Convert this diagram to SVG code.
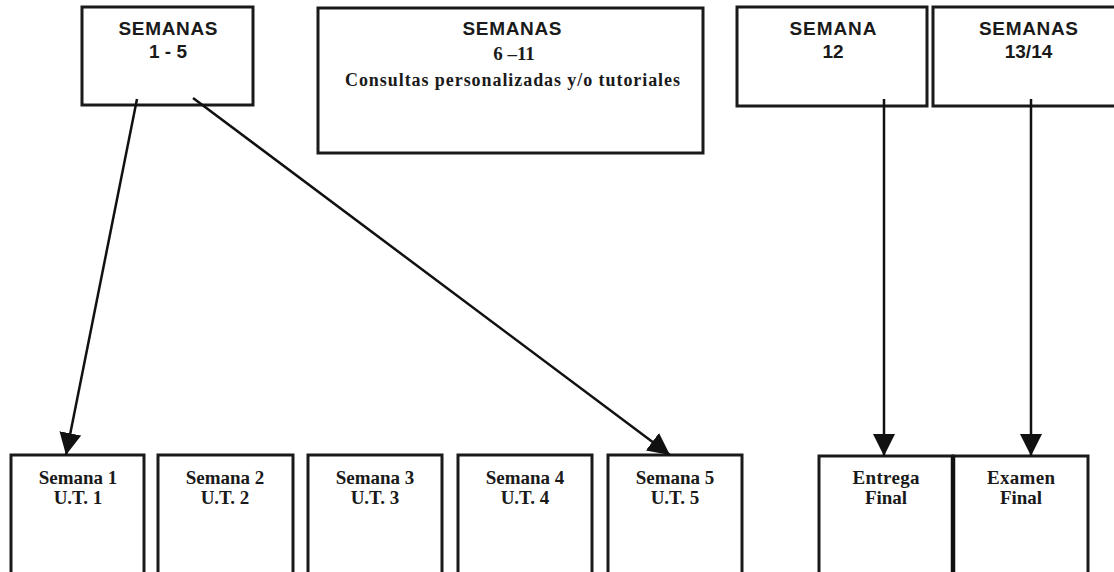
<svg xmlns="http://www.w3.org/2000/svg" width="1114" height="572" viewBox="0 0 1114 572">
<style>
.box{fill:#fff;stroke:#1a1a1a;stroke-width:3}
.sans{font-family:"Liberation Sans",Arial,sans-serif;font-weight:bold;font-size:19px;fill:#1a1a1a;text-anchor:middle}
.serif{font-family:"Liberation Serif","Times New Roman",serif;font-weight:bold;font-size:19px;fill:#1a1a1a;text-anchor:middle}
.conn{stroke:#111;stroke-width:2.5;fill:none}
</style>
<defs>
<marker id="ah" markerUnits="userSpaceOnUse" markerWidth="24" markerHeight="24" refX="22" refY="11" orient="auto" viewBox="0 0 24 24">
<path d="M0,0 L22,11 L0,22 z" fill="#111"/>
</marker>
</defs>
<rect width="1114" height="572" fill="#fff"/>
<g id="n-s1-5">
<rect class="box" x="82" y="7" width="171" height="98"/>
<text class="sans" x="168" y="35" textLength="99" lengthAdjust="spacing">SEMANAS</text>
<text class="sans" x="168" y="58">1 - 5</text>
</g>
<g id="n-s6-11">
<rect class="box" x="318" y="8" width="385" height="145"/>
<text class="sans" x="512" y="35" textLength="99" lengthAdjust="spacing">SEMANAS</text>
<text class="serif" x="514" y="60">6 –11</text>
<text class="serif" x="512.5" y="86" style="font-size:18px" textLength="335" lengthAdjust="spacing">Consultas personalizadas y/o tutoriales</text>
</g>
<g id="n-s12">
<rect class="box" x="737" y="7" width="190" height="99"/>
<text class="sans" x="833" y="35" textLength="87" lengthAdjust="spacing">SEMANA</text>
<text class="sans" x="833" y="58">12</text>
</g>
<g id="n-s13-14">
<rect class="box" x="933" y="7" width="192" height="99"/>
<text class="sans" x="1028.5" y="35" textLength="99" lengthAdjust="spacing">SEMANAS</text>
<text class="sans" x="1028.5" y="58">13/14</text>
</g>
<g id="n-sem1">
<rect class="box" x="11" y="455" width="133" height="130"/>
<text class="serif" x="78" y="484">Semana 1</text>
<text class="serif" x="78" y="504">U.T. 1</text>
</g>
<g id="n-sem2">
<rect class="box" x="158" y="455" width="135" height="130"/>
<text class="serif" x="225" y="484">Semana 2</text>
<text class="serif" x="225" y="504">U.T. 2</text>
</g>
<g id="n-sem3">
<rect class="box" x="308" y="455" width="134" height="130"/>
<text class="serif" x="375" y="484">Semana 3</text>
<text class="serif" x="375" y="504">U.T. 3</text>
</g>
<g id="n-sem4">
<rect class="box" x="458" y="455" width="134" height="130"/>
<text class="serif" x="525" y="484">Semana 4</text>
<text class="serif" x="525" y="504">U.T. 4</text>
</g>
<g id="n-sem5">
<rect class="box" x="608" y="455" width="134" height="130"/>
<text class="serif" x="675" y="484">Semana 5</text>
<text class="serif" x="675" y="504">U.T. 5</text>
</g>
<g id="n-entrega">
<rect class="box" x="819" y="456" width="134" height="130"/>
<text class="serif" x="886" y="484" textLength="67" lengthAdjust="spacing">Entrega</text>
<text class="serif" x="886" y="504">Final</text>
</g>
<g id="n-examen">
<rect class="box" x="953" y="456" width="135" height="130"/>
<line x1="953" y1="456" x2="953" y2="572" stroke="#111" stroke-width="4.5"/>
<text class="serif" x="1021" y="484" textLength="68" lengthAdjust="spacing">Examen</text>
<text class="serif" x="1021" y="504">Final</text>
</g>
<g id="connectors">
<line class="conn" x1="137" y1="99" x2="66" y2="455" marker-end="url(#ah)"/>
<line class="conn" x1="193" y1="98" x2="670" y2="455" marker-end="url(#ah)"/>
<line class="conn" x1="884" y1="99" x2="884" y2="456" marker-end="url(#ah)"/>
<line class="conn" x1="1031" y1="99" x2="1031" y2="456" stroke-width="3.5" marker-end="url(#ah)"/>
</g>
</svg>
